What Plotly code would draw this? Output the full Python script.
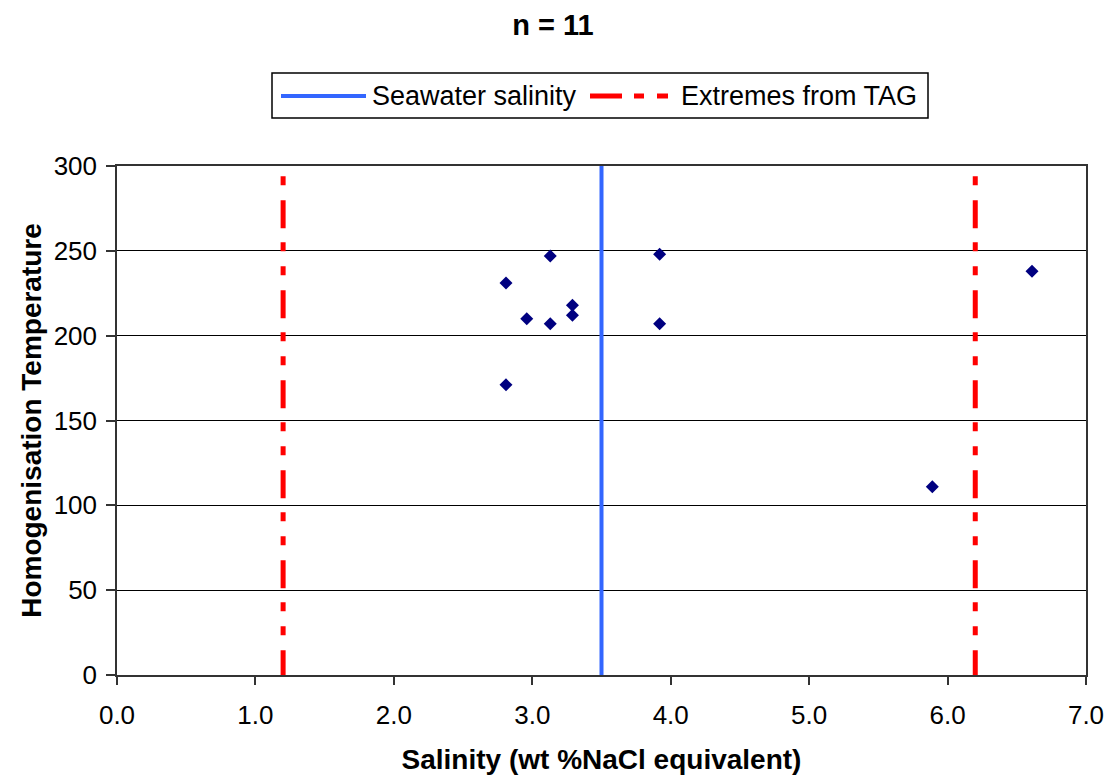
import plotly.graph_objects as go

# Fluid inclusion measurements
salinity = [2.81, 3.13, 3.92, 3.29, 3.29, 2.96, 3.13, 3.92, 2.81, 6.61, 5.89]
temperature = [231, 247, 248, 218, 212, 210, 207, 207, 171, 238, 111]

# Reference lines
seawater_x = [3.5, 3.5]
seawater_y = [0, 300]
tag_low_x = [1.2, 1.2]
tag_high_x = [6.2, 6.2]
tag_y = [294, 0]

x_ticks = [0, 1, 2, 3, 4, 5, 6, 7]
y_ticks = [0, 50, 100, 150, 200, 250, 300]

legend_labels = ["Seawater salinity", "Extremes from TAG"]

FONT = "Liberation Sans, Arial, sans-serif"
RED_DASH = "9px,15px,28px,14px,9px,15px"
BLUE = "#3366FF"
RED = "#FF0000"

W, H = 1117, 776
L, R, T, B = 117, 31, 166, 101
PW, PH = W - L - R, H - T - B


def px_x(p):
    """Horizontal pixel -> paper coordinate."""
    return (p - L) / PW


def px_y(p):
    """Vertical pixel (from top) -> paper coordinate."""
    return 1 + (T - p) / PH


fig = go.Figure()

fig.add_trace(go.Scatter(
    x=salinity, y=temperature, mode="markers",
    marker=dict(symbol="diamond", size=10, color="#000080"),
    showlegend=False, hoverinfo="x+y",
))

fig.add_trace(go.Scatter(
    x=seawater_x, y=seawater_y, mode="lines",
    line=dict(color=BLUE, width=4),
    showlegend=False, name=legend_labels[0],
))

for xs in (tag_low_x, tag_high_x):
    fig.add_trace(go.Scatter(
        x=xs, y=tag_y, mode="lines",
        line=dict(color=RED, width=5, dash=RED_DASH),
        showlegend=False, name=legend_labels[1],
    ))

# Boxed legend above the plot area
leg_mid = px_y(96)
shapes = [
    dict(type="rect", xref="paper", yref="paper",
         x0=px_x(272), x1=px_x(928), y0=px_y(118), y1=px_y(73),
         line=dict(color="black", width=1.5), fillcolor="white", layer="above"),
    dict(type="line", xref="paper", yref="paper",
         x0=px_x(281), x1=px_x(366), y0=leg_mid, y1=leg_mid,
         line=dict(color=BLUE, width=4)),
    dict(type="line", xref="paper", yref="paper",
         x0=px_x(590), x1=px_x(668), y0=leg_mid, y1=leg_mid,
         line=dict(color=RED, width=5, dash="32px,12px,10px,13px,11px,20px")),
]
annotations = [
    dict(text=legend_labels[0], xref="paper", yref="paper",
         x=px_x(370), y=leg_mid, xanchor="left", yanchor="middle",
         showarrow=False, font=dict(size=27, family=FONT, color="black")),
    dict(text=legend_labels[1], xref="paper", yref="paper",
         x=px_x(679), y=leg_mid, xanchor="left", yanchor="middle",
         showarrow=False, font=dict(size=27, family=FONT, color="black")),
]

fig.update_layout(
    width=W, height=H,
    margin=dict(l=L, r=R, t=T, b=B),
    paper_bgcolor="white", plot_bgcolor="white",
    font=dict(family=FONT, color="black", size=26),
    title=dict(
        text="<b>n = 11</b>", x=0.495, xanchor="center",
        y=1 - 25 / H, yanchor="middle", yref="container",
        font=dict(size=29, family=FONT, color="black"),
    ),
    showlegend=False,
    shapes=shapes,
    annotations=annotations,
)

fig.update_xaxes(
    range=[0, 7], tickvals=x_ticks, tickformat=".1f",
    showgrid=False, zeroline=False, automargin=False,
    showline=True, linecolor="#333333", linewidth=1.5, mirror=True,
    ticks="outside", ticklen=8, tickcolor="#333333", tickwidth=1.5,
    ticklabelstandoff=8,
    tickfont=dict(size=26, family=FONT),
    title=dict(text="<b>Salinity (wt %NaCl equivalent)</b>", standoff=20,
               font=dict(size=28, family=FONT)),
)

fig.update_yaxes(
    range=[0, 300], tickvals=y_ticks,
    showgrid=True, gridcolor="black", gridwidth=1, zeroline=False, automargin=False,
    showline=True, linecolor="#333333", linewidth=1.5, mirror=True,
    ticks="outside", ticklen=9, tickcolor="#333333", tickwidth=1.5,
    ticklabelstandoff=4,
    tickfont=dict(size=26, family=FONT),
    title=dict(text="<b>Homogenisation Temperature</b>", standoff=4,
               font=dict(size=28, family=FONT)),
)

fig.write_html("out.html")
